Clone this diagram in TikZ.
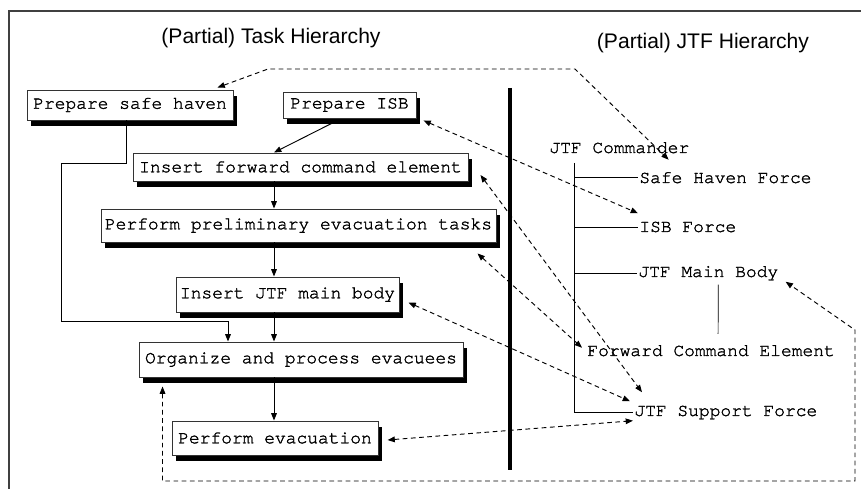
\documentclass[tikz,border=0pt]{standalone}
\usepackage{fontspec}
\setmainfont{Liberation Sans}
\setmonofont[FakeBold=1.6]{TeX Gyre Cursor}
\usetikzlibrary{arrows.meta,calc,backgrounds}
\begin{document}
\begin{tikzpicture}[x=0.03cm,y=-0.03cm,
  task/.style={draw=black!80, line width=0.8pt, fill=white, inner sep=0pt,
    font=\fontsize{15.3}{18}\ttfamily},
  unit/.style={anchor=base west, inner sep=1pt, font=\fontsize{15.3}{18}\ttfamily},
  title/.style={font=\fontsize{18}{22}\selectfont},
  flow/.style={line width=0.8pt, -{Triangle[length=2.2mm,width=1.7mm]}},
  link/.style={line width=0.8pt, dash pattern=on 4pt off 3pt,
    {Triangle[length=2.2mm,width=1.7mm]}-{Triangle[length=2.2mm,width=1.7mm]}}]
\useasboundingbox (0,0) rectangle (861,489);
\draw[line width=1pt, black!75] (9,489) |- (861,11);
\node[title] (tasktitle) at (271,38) {(Partial) Task Hierarchy};
\node[title] (jtftitle) at (703,43) {(Partial) JTF Hierarchy};
% task side
\node[task, minimum width=6.18cm, minimum height=0.9cm] (safe) at (130,105) {Prepare safe haven};
\node[task, minimum width=3.99cm, minimum height=0.78cm] (isb) at (349.5,105) {Prepare ISB};
\node[task, minimum width=10.05cm, minimum height=0.84cm] (fwd) at (300.5,167) {Insert forward command element};
\node[task, minimum width=11.85cm, minimum height=0.99cm] (prelim) at (298.5,225.5) {Perform preliminary evacuation tasks};
\node[task, minimum width=6.69cm, minimum height=1.05cm] (main) at (287.5,294.5) {Insert JTF main body};
\node[task, minimum width=9.72cm, minimum height=1.05cm] (organize) at (301,359.5) {Organize and process evacuees};
\node[task, minimum width=6.18cm, minimum height=1.02cm] (evac) at (275,438) {Perform evacuation};
% shadows
\begin{scope}[on background layer]
\foreach \n in {safe,isb,fwd,prelim,main,organize,evac}
  \fill ($(\n.south west)+(4,6)$) rectangle ($(\n.north east)+(4,6)$);
\end{scope}
\coordinate (spine) at (274,0);
\coordinate (join) at (228,321);
\draw[flow] (fwd.south -| spine) -- (prelim.north -| spine);
\draw[flow] (prelim.south -| spine) -- (main.north -| spine);
\draw[flow] (main.south -| spine) -- (organize.north -| spine);
\draw[flow] (organize.south -| spine) -- (evac.north -| spine);
\draw[flow] ($(isb.south)+(-16,4)$) -- (fwd.north -| spine);
\draw[flow] ($(safe.south)+(-4,0)$) |- (61,163) |- (join) -- (organize.north -| join);
% separator
\draw[line width=0.12cm] (510,88) -- (510,470);
% JTF side
\node[unit] (cmdr) at (548,153) {JTF Commander};
\node[unit] (shf) at (638,183) {Safe Haven Force};
\node[unit] (isbf) at (638,232) {ISB Force};
\node[unit] (mainb) at (637,277) {JTF Main Body};
\node[unit] (fce) at (586,356) {Forward Command Element};
\node[unit] (sup) at (633,416) {JTF Support Force};
\coordinate (trunk) at (574,163);
\draw[line width=0.6pt] (trunk) |- (sup.west);
\draw[line width=0.6pt] (trunk |- shf.west) -- (shf.west);
\draw[line width=0.6pt] (trunk |- isbf.west) -- (isbf.west);
\draw[line width=0.6pt] (trunk |- mainb.west) -- (mainb.west);
\draw[line width=0.6pt] ($(mainb.south)+(10,3)$) -- ($(fce.north)+(7,-10)$);
% links between the two hierarchies
\draw[link] ($(safe.north east)+(-16,-2)$) -- (268,69) -- (575,69) -- ($(cmdr.south east)+(-22,5)$);
\draw[link] ($(isb.south east)+(7,2)$) -- ($(isbf.north west)+(0,-7)$);
\draw[link] ($(fwd.east)+(12,8)$) -- ($(sup.north west)+(9,-12)$);
\draw[link] ($(prelim.south east)+(-19,11)$) -- ($(fce.west)+(-4,-3)$);
\draw[link] ($(main.east)+(9,8)$) -- ($(sup.north west)+(-3,-3)$);
\draw[link] ($(evac.east)+(9,2)$) -- (sup.south west);
\draw[link] ($(organize.south west)+(24,9)$) |- (855,481) -- (855,330) -- ($(mainb.south east)+(6,0)$);
\end{tikzpicture}
\end{document}
